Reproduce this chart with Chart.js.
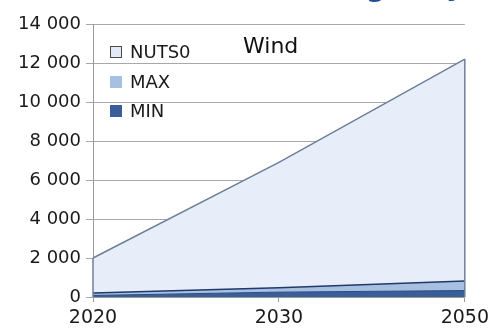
<!DOCTYPE html>
<html>
<head>
<meta charset="utf-8">
<script src="https://cdn.jsdelivr.net/npm/chart.js@4"></script>
<style>
  html, body { margin: 0; padding: 0; background: #ffffff; }
  #wrap { width: 494px; height: 329px; position: relative; }
</style>
</head>
<body>
<div id="wrap"><canvas id="c" width="494" height="329"></canvas></div>
<script>
const categories = ['2020', '2030', '2050'];
const nuts0 = [2000, 6900, 12200];
const maxVals = [200, 480, 820];
const minVals = [80, 250, 330];
const yTicks = [0, 2000, 4000, 6000, 8000, 10000, 12000, 14000];
const chartLabel = 'Wind';

const fmt = v => String(v).replace(/\B(?=(\d{3})+(?!\d))/g, ' ');

const extras = {
  id: 'extras',
  afterDatasetsDraw(chart) {
    const ctx = chart.ctx;
    const xs = chart.scales.x, ys = chart.scales.y;
    ctx.save();
    ctx.strokeStyle = '#6f7f98';
    ctx.lineWidth = 1.5;
    [0, categories.length - 1].forEach(i => {
      const x = xs.getPixelForValue(i);
      ctx.beginPath();
      ctx.moveTo(x, ys.getPixelForValue(nuts0[i]));
      ctx.lineTo(x, ys.getPixelForValue(0));
      ctx.stroke();
    });
    ctx.restore();
  },
  afterDraw(chart) {
    const ctx = chart.ctx;
    const ds = chart.data.datasets.slice().sort((a, b) => b.order - a.order);
    ctx.save();
    ctx.font = '18px "DejaVu Sans"';
    ctx.textBaseline = 'middle';
    ctx.textAlign = 'left';
    const lx = 110, ly = [52, 82, 111];
    ds.forEach((d, i) => {
      ctx.fillStyle = d.legendBox;
      ctx.fillRect(lx, ly[i] - 6, 12, 12);
      if (i === 0) {
        ctx.strokeStyle = '#4a4a4a';
        ctx.lineWidth = 1;
        ctx.strokeRect(lx + 0.5, ly[i] - 5.5, 11, 11);
      }
      ctx.fillStyle = '#1a1a1a';
      ctx.fillText(d.label, 130, ly[i] + 1);
    });
    ctx.font = '22px "DejaVu Sans"';
    ctx.fillStyle = '#111111';
    ctx.fillText(chartLabel, 243, 47);
    ctx.font = 'bold 28px "DejaVu Sans"';
    ctx.fillStyle = '#1f4e96';
    ctx.textBaseline = 'alphabetic';
    ctx.fillText('g', 366, -4);
    ctx.fillText('y', 446, -5);
    ctx.restore();
  }
};

new Chart(document.getElementById('c'), {
  type: 'line',
  data: {
    labels: categories,
    datasets: [
      { label: 'NUTS0', data: nuts0, order: 3, fill: 'origin',
        backgroundColor: '#e8eef9', borderColor: '#6f7f98', borderWidth: 1.5,
        pointRadius: 0, tension: 0, legendBox: '#e3eaf7' },
      { label: 'MAX', data: maxVals, order: 2, fill: 'origin',
        backgroundColor: '#a7bfe0', borderColor: '#1f3a6b', borderWidth: 1.5,
        pointRadius: 0, tension: 0, legendBox: '#a7bfe0' },
      { label: 'MIN', data: minVals, order: 1, fill: 'origin',
        backgroundColor: '#3a5f98', borderColor: '#2c4d82', borderWidth: 1,
        pointRadius: 0, tension: 0, legendBox: '#3a5f98' }
    ]
  },
  options: {
    responsive: false,
    animation: false,
    devicePixelRatio: 1,
    layout: { padding: { top: 24, right: 28, left: 0, bottom: 0 } },
    plugins: { legend: { display: false }, tooltip: { enabled: false }, title: { display: false } },
    scales: {
      x: {
        type: 'category',
        offset: false,
        grid: { drawOnChartArea: false, drawTicks: true, tickLength: 5, color: '#9a9a9a' },
        border: { display: true, color: '#9a9a9a' },
        ticks: { color: '#1a1a1a', font: { family: 'DejaVu Sans', size: 19 }, padding: 5, maxRotation: 0, autoSkip: false },
        afterFit(s) { s.height = 32; }
      },
      y: {
        z: 1,
        min: 0, max: 14000,
        afterBuildTicks(s) { s.ticks = yTicks.map(v => ({ value: v })); },
        grid: { color: '#a8a8a8', tickLength: 7, lineWidth: 1 },
        border: { display: true, color: '#9a9a9a' },
        ticks: { color: '#1a1a1a', font: { family: 'DejaVu Sans', size: 18 }, padding: 5, callback: v => fmt(v) },
        afterFit(s) { s.width = 93; }
      }
    }
  },
  plugins: [extras]
});
</script>
</body>
</html>
